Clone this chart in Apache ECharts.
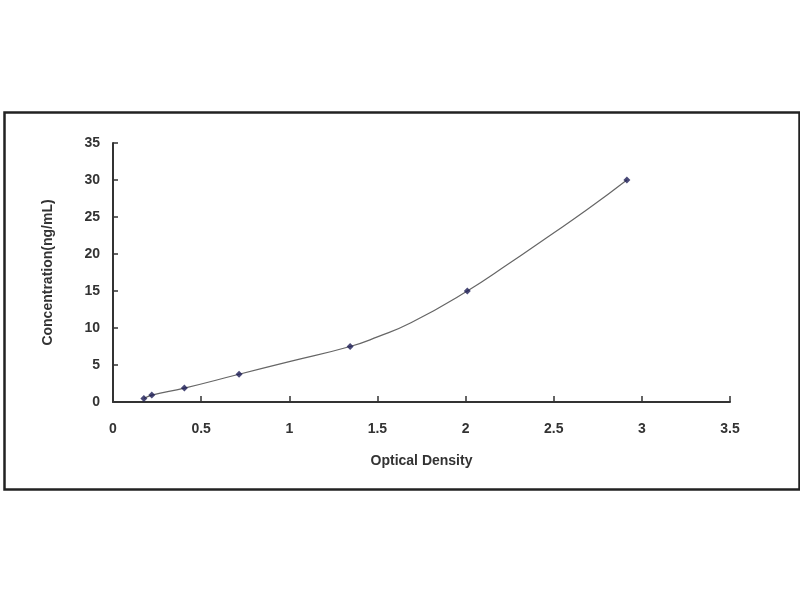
<!DOCTYPE html>
<html>
<head>
<meta charset="utf-8">
<script src="https://cdn.jsdelivr.net/npm/echarts@6/dist/echarts.min.js"></script>
<style>html,body{margin:0;padding:0;background:#fff}#c{width:800px;height:600px}</style>
</head>
<body>
<div id="c"></div>
<script>
// Standard points
const opticalDensity = [0.175, 0.22, 0.405, 0.715, 1.345, 2.01, 2.915];
const concentration = [0.47, 0.94, 1.88, 3.75, 7.5, 15, 30];
// Fitted curve
const curveOD = [0.175, 0.22, 0.405, 0.715, 1.0, 1.345, 1.5, 1.69, 2.01, 2.24, 2.46, 2.69, 2.915];
const curveConc = [0.47, 0.94, 1.88, 3.75, 5.45, 7.5, 8.8, 10.7, 15, 18.6, 22.2, 26.0, 30];
const xTicks = [0, 0.5, 1, 1.5, 2, 2.5, 3, 3.5];
const yTicks = [0, 5, 10, 15, 20, 25, 30, 35];

const chart = echarts.init(document.getElementById('c'));
const pts = opticalDensity.map((x, i) => [x, concentration[i]]);
const curve = curveOD.map((x, i) => [x, curveConc[i]]);
const lab = {color: '#333', fontFamily: 'Liberation Sans, Arial, sans-serif', fontWeight: 'bold', fontSize: 14};
chart.setOption({
  animation: false,
  backgroundColor: '#fff',
  graphic: [{
    type: 'rect', left: 2, top: 110,
    shape: {width: 795, height: 377},
    style: {fill: 'none', stroke: '#222', lineWidth: 2.5}
  }],
  grid: {left: 113, right: 70, top: 143, bottom: 198},
  xAxis: {
    type: 'value', min: xTicks[0], max: xTicks[xTicks.length - 1], interval: 0.5,
    name: 'Optical Density', nameLocation: 'middle', nameGap: 52,
    nameTextStyle: lab,
    axisLine: {lineStyle: {color: '#333', width: 2}},
    axisTick: {inside: true, length: 6, lineStyle: {color: '#333', width: 1.5}},
    axisLabel: Object.assign({margin: 20}, lab),
    splitLine: {show: false}
  },
  yAxis: {
    type: 'value', min: yTicks[0], max: yTicks[yTicks.length - 1], interval: 5,
    name: 'Concentration(ng/mL)', nameLocation: 'middle', nameGap: 58,
    nameTextStyle: lab,
    axisLine: {show: true, lineStyle: {color: '#333', width: 2}},
    axisTick: {show: true, inside: true, length: 5, lineStyle: {color: '#333', width: 1.5}},
    axisLabel: Object.assign({margin: 13}, lab),
    splitLine: {show: false}
  },
  series: [{
    type: 'line', data: curve, smooth: 0.5,
    symbol: 'none',
    lineStyle: {color: '#666', width: 1.2},
    z: 2
  }, {
    type: 'scatter', data: pts,
    symbol: 'diamond', symbolSize: 7,
    itemStyle: {color: '#1b1b55'},
    z: 3
  }]
});
</script>
</body>
</html>
